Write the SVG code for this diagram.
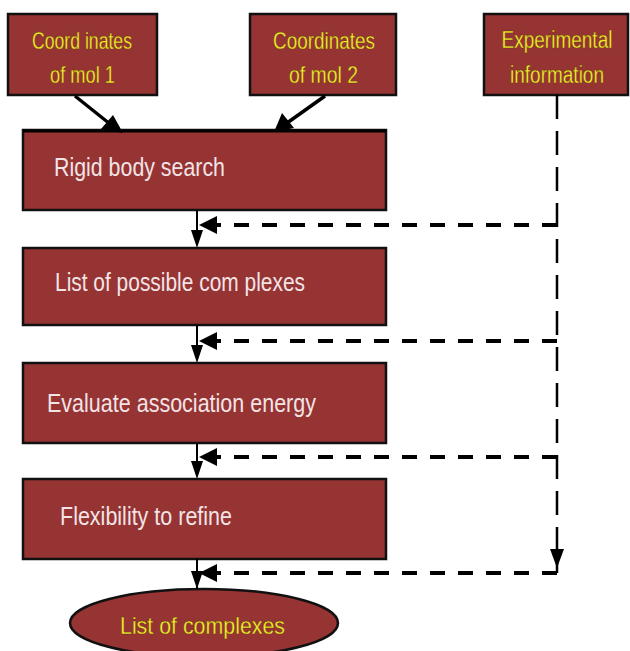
<svg xmlns="http://www.w3.org/2000/svg" width="630" height="651" viewBox="0 0 630 651">
<style>
.box{fill:#963333;stroke:#111;stroke-width:2.5}
.ytxt{font-family:"Liberation Sans",Arial,sans-serif;font-size:24px;fill:#f4f030;stroke:#5a3a00;stroke-width:0.3;text-anchor:middle}
.etxt{font-family:"Liberation Sans",Arial,sans-serif;font-size:19px;fill:#f4f030;stroke:#5a3a00;stroke-width:0.25;text-anchor:middle}
.wtxt{font-family:"Liberation Sans",Arial,sans-serif;font-size:26px;fill:#f2e4e6;text-anchor:start}
.solid{stroke:#000;stroke-width:2;fill:none}
.thick{stroke:#000;stroke-width:3.5;fill:none}
.dash{stroke:#000;stroke-width:4;fill:none;stroke-dasharray:15 13}
.vdash{stroke:#000;stroke-width:2.5;fill:none;stroke-dasharray:24 12}
.head{fill:#000}
</style>
<rect width="630" height="651" fill="#fff"/>
<g id="mol1">
<rect class="box" x="8" y="14" width="149" height="81"/>
<text class="ytxt" x="82" y="49" textLength="100" lengthAdjust="spacingAndGlyphs">Coord inates</text>
<text class="ytxt" x="82.5" y="83" textLength="65" lengthAdjust="spacingAndGlyphs">of mol 1</text>
</g>
<g id="mol2">
<rect class="box" x="250" y="14" width="146" height="81"/>
<text class="ytxt" x="324" y="49" textLength="102" lengthAdjust="spacingAndGlyphs">Coordinates</text>
<text class="ytxt" x="323.5" y="83" textLength="69" lengthAdjust="spacingAndGlyphs">of mol 2</text>
</g>
<g id="experimental">
<rect class="box" x="484" y="14" width="144" height="81"/>
<text class="etxt" transform="translate(557,48) scale(1,1.25)">Experimental</text>
<text class="etxt" transform="translate(557,83) scale(1,1.25)">information</text>
</g>
<g id="rigid">
<rect class="box" x="23" y="130" width="363" height="80"/>
<line x1="23" y1="131" x2="386" y2="131" stroke="#000" stroke-width="3"/>
<text class="wtxt" x="54" y="176" textLength="171" lengthAdjust="spacingAndGlyphs">Rigid body search</text>
</g>
<g id="possible">
<rect class="box" x="23" y="248" width="363" height="77"/>
<text class="wtxt" x="55" y="291" textLength="250" lengthAdjust="spacingAndGlyphs">List of possible com plexes</text>
</g>
<g id="evaluate">
<rect class="box" x="23" y="363" width="363" height="80"/>
<text class="wtxt" x="47" y="412" textLength="269" lengthAdjust="spacingAndGlyphs">Evaluate association energy</text>
</g>
<g id="flexibility">
<rect class="box" x="23" y="479" width="363" height="80"/>
<text class="wtxt" x="60" y="525" textLength="172" lengthAdjust="spacingAndGlyphs">Flexibility to refine</text>
</g>
<g id="result">
<ellipse class="box" cx="204" cy="623" rx="134" ry="34"/>
<text class="ytxt" x="202.5" y="634" font-size="25" textLength="165" lengthAdjust="spacingAndGlyphs">List of complexes</text>
</g>
<g id="connectors">
<line class="thick" x1="75" y1="96" x2="110" y2="124"/>
<polygon class="head" points="123,133 101,129 113,115"/>
<line class="thick" x1="325" y1="96" x2="287" y2="123"/>
<polygon class="head" points="274,132 282,113 294,128"/>
<line class="solid" x1="197" y1="210" x2="197" y2="240"/>
<polygon class="head" points="197,248 191,230 203,230"/>
<line class="solid" x1="197" y1="325" x2="197" y2="355"/>
<polygon class="head" points="197,363 191,345 203,345"/>
<line class="solid" x1="197" y1="443" x2="197" y2="471"/>
<polygon class="head" points="197,479 191,461 203,461"/>
<line class="solid" x1="197" y1="559" x2="197" y2="589"/>
<polygon class="head" points="197,589 191,571 203,571"/>
<path class="vdash" d="M557,95 V573"/>
<polygon class="head" points="557,568 550,549 564,549"/>
<path class="dash" d="M557,225 H212"/>
<polygon class="head" points="199,225 217,216 217,234"/>
<path class="dash" d="M557,341 H212"/>
<polygon class="head" points="199,341 217,332 217,350"/>
<path class="dash" d="M557,457 H212"/>
<polygon class="head" points="199,457 217,448 217,466"/>
<path class="dash" d="M557,573 H212"/>
<polygon class="head" points="199,573 217,564 217,582"/>
</g>
</svg>
